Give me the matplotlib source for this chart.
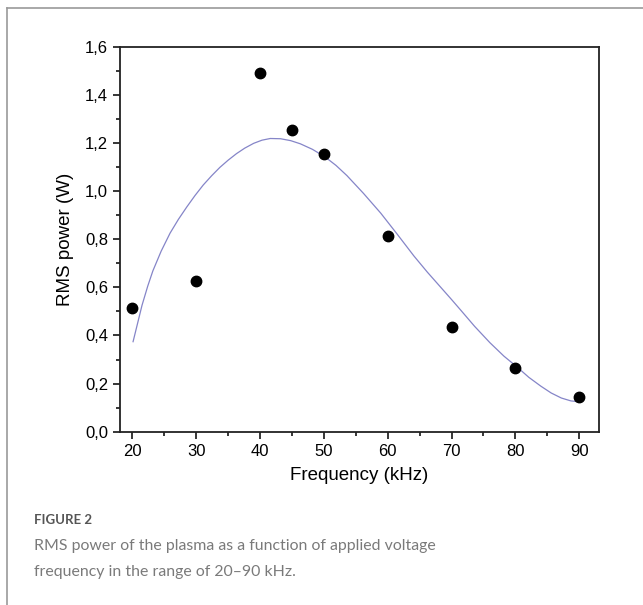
import matplotlib
matplotlib.use("Agg")
import matplotlib.pyplot as plt
from matplotlib.ticker import MultipleLocator, FuncFormatter
from matplotlib.lines import Line2D

# measured points
freq = [20, 30, 40, 45, 50, 60, 70, 80, 90]
power = [0.515, 0.625, 1.49, 1.255, 1.155, 0.815, 0.435, 0.265, 0.145]

# fitted curve
fit_x = [20.1, 21.5, 22.4, 23.2, 24.5, 25.9, 27.2, 28.5, 29.8, 31.1, 32.4, 33.7, 35.0,
         36.3, 37.6, 39.0, 40.3, 41.6, 43.2, 44.8, 46.3, 48.2, 50.2, 51.9,
         53.6, 56.2, 58.9, 61.5, 64.1, 66.2, 68.3, 70.0, 71.5, 73.6, 76.0,
         78.2, 80.3, 82.1, 84.0, 85.6, 87.2, 88.7, 90.1]
fit_y = [0.374, 0.525, 0.605, 0.668, 0.750, 0.825, 0.882, 0.933, 0.981, 1.025, 1.063, 1.098, 1.128,
         1.155, 1.178, 1.198, 1.211, 1.218, 1.217, 1.209, 1.196, 1.173, 1.141, 1.106,
         1.064, 0.990, 0.908, 0.820, 0.730, 0.663, 0.600, 0.549, 0.503, 0.438, 0.370,
         0.314, 0.268, 0.226, 0.189, 0.161, 0.140, 0.128, 0.124]

plt.rcParams["font.family"] = ["Liberation Sans", "DejaVu Sans"]

fig = plt.figure(figsize=(6.43, 6.05), dpi=100)
ax = fig.add_axes([0.1866, 0.2864, 0.745, 0.6367])

ax.plot(fit_x, fit_y, color="#8585c8", lw=0.9)
ax.plot(freq, power, "o", color="black", ms=7.5)

ax.set_xlim(18.05, 93.1)
ax.set_ylim(0, 1.6)
ax.xaxis.set_major_locator(MultipleLocator(10))
ax.xaxis.set_minor_locator(MultipleLocator(5))
ax.yaxis.set_major_locator(MultipleLocator(0.2))
ax.yaxis.set_minor_locator(MultipleLocator(0.1))
ax.yaxis.set_major_formatter(FuncFormatter(lambda v, p: ("%.1f" % v).replace(".", ",")))
ax.tick_params(which="major", direction="out", length=5, width=1.1, labelsize=12, colors="black")
ax.tick_params(which="minor", direction="out", length=3, width=1.1)
ax.tick_params(top=False, right=False, which="both")
for s in ax.spines.values():
    s.set_linewidth(1.3)
    s.set_color("#222222")

ax.set_xlabel("Frequency (kHz)", fontsize=13.5, labelpad=6)
ax.set_ylabel("RMS power (W)", fontsize=13.5, labelpad=8)

# page frame lines
fig.add_artist(Line2D([7 / 643, 1], [1 - 8 / 605, 1 - 8 / 605], color="#9a9a9a", lw=1.2))
fig.add_artist(Line2D([7 / 643, 7 / 643], [0, 1 - 8 / 605], color="#9a9a9a", lw=1.2))

cap_font = ["Lato", "DejaVu Sans"]
fig.text(34 / 643, 1 - 520 / 605, "FIGURE 2", fontsize=9.5, color="#555555",
         family=cap_font, fontweight="bold", va="center")
fig.text(34 / 643, 1 - 546 / 605, "RMS power of the plasma as a function of applied voltage",
         fontsize=11.4, color="#7a7a7a", family=cap_font, va="center")
fig.text(34 / 643, 1 - 572 / 605, "frequency in the range of 20\u201390 kHz.",
         fontsize=11.4, color="#7a7a7a", family=cap_font, va="center")

fig.savefig("out.png", dpi=100)
